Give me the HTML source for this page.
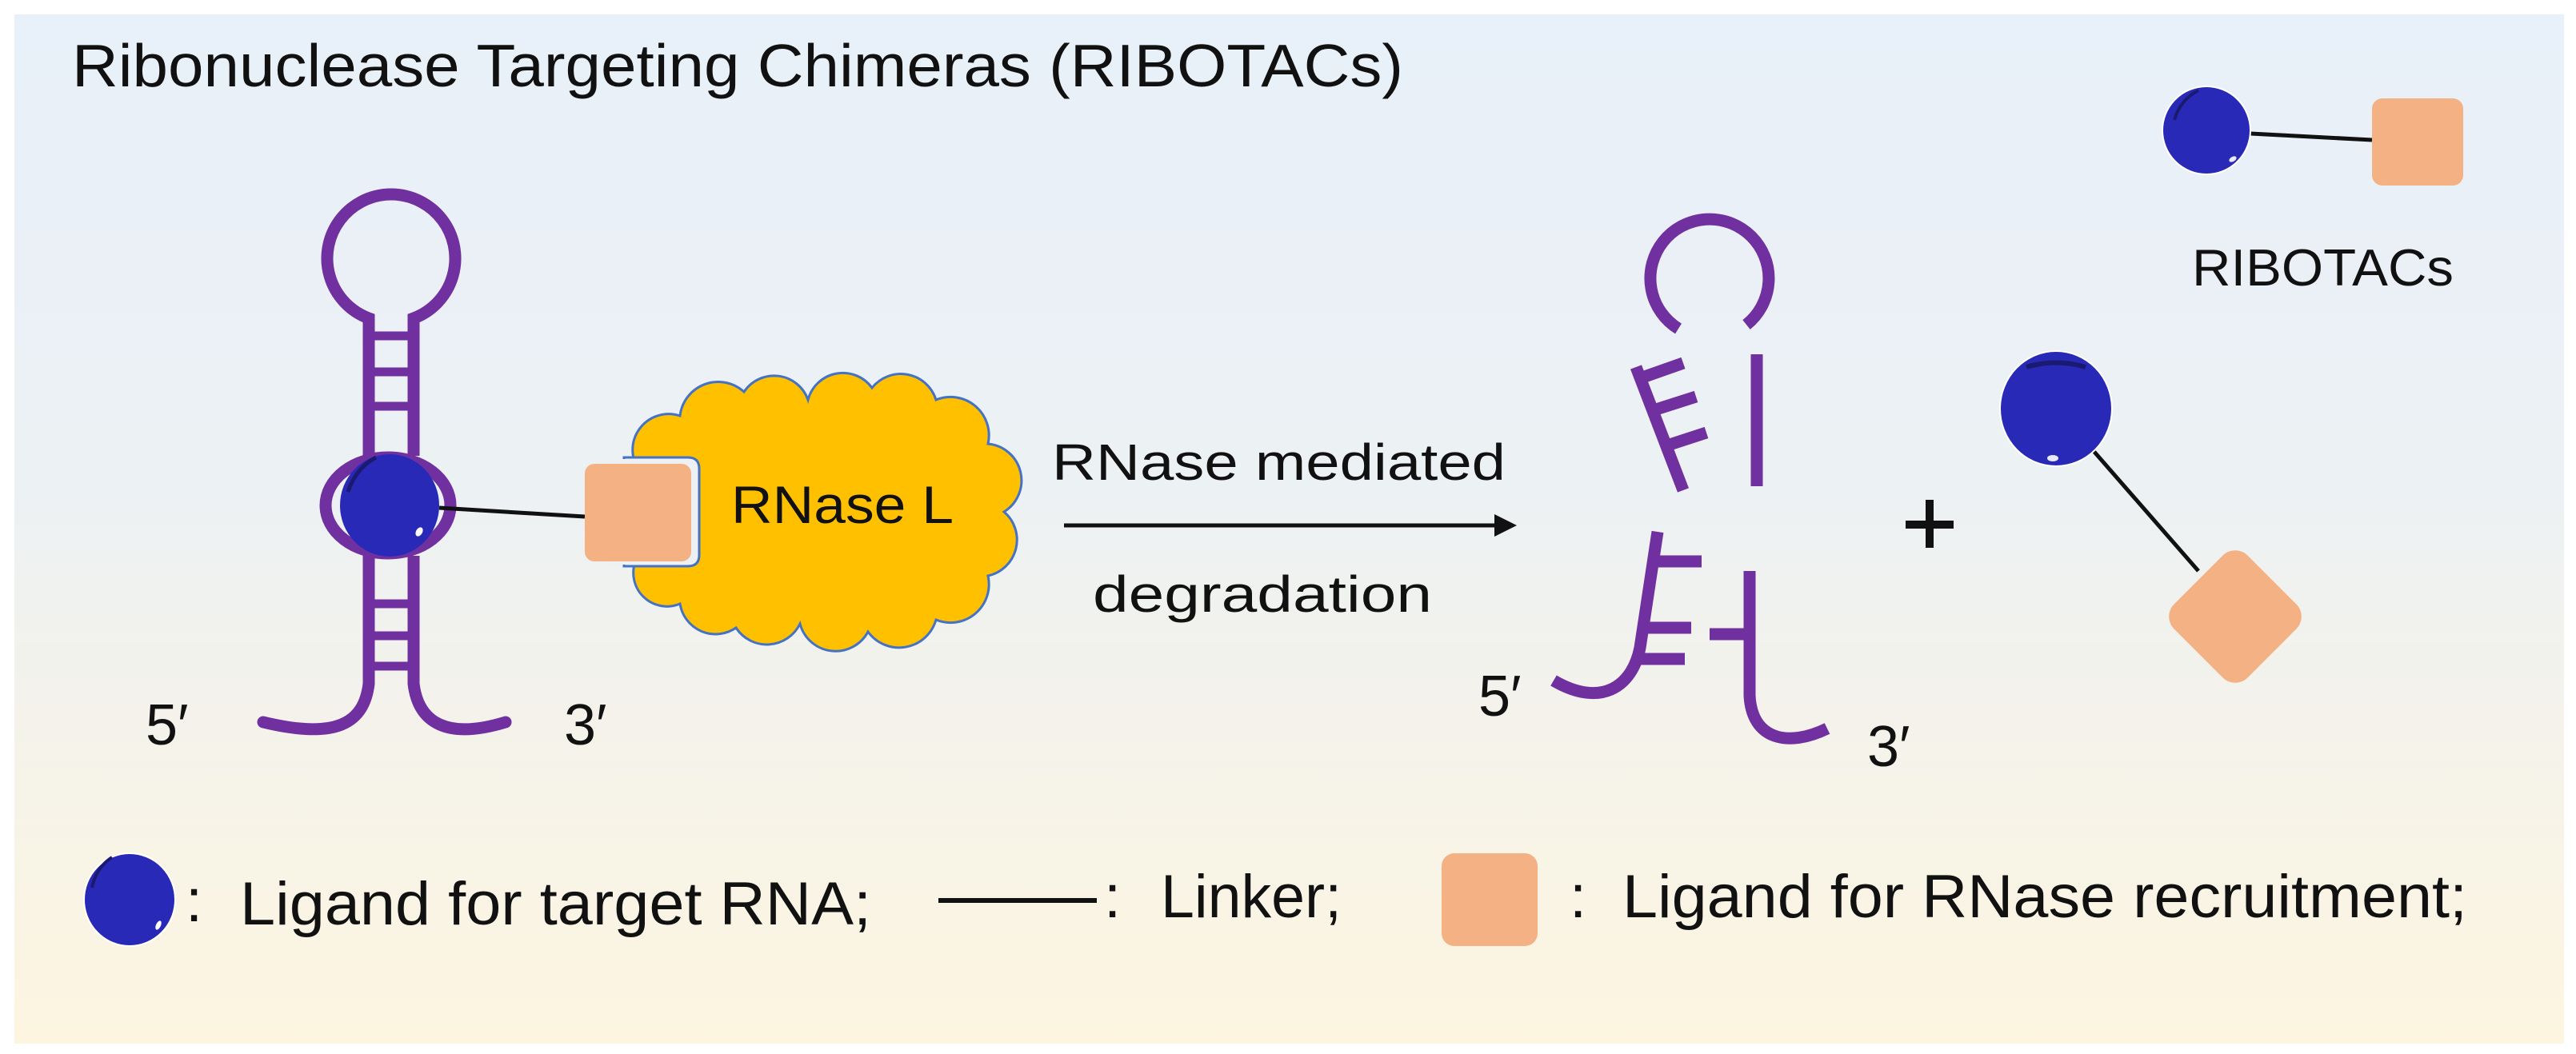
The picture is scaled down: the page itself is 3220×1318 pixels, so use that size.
<!DOCTYPE html>
<html><head><meta charset="utf-8"><style>
html,body{margin:0;padding:0;background:#fff;}
svg{display:block;}
text{font-family:"Liberation Sans",sans-serif;fill:#111;}
</style></head><body>
<svg width="3220" height="1318" viewBox="0 0 3220 1318" xmlns="http://www.w3.org/2000/svg">
<defs>
<linearGradient id="bg" x1="0" y1="0" x2="0" y2="1">
<stop offset="0" stop-color="#e8f0f9"/>
<stop offset="0.45" stop-color="#ecf1f4"/>
<stop offset="0.62" stop-color="#f2f2ed"/>
<stop offset="1" stop-color="#fdf5e0"/>
</linearGradient>
</defs>
<rect x="18" y="18" width="3187" height="1287" fill="url(#bg)"/>

<text x="90" y="108" font-size="75" textLength="1664" lengthAdjust="spacingAndGlyphs">Ribonuclease Targeting Chimeras (RIBOTACs)</text>

<!-- left hairpin -->
<g fill="none" stroke="#7030a0" stroke-width="15" stroke-linecap="butt">
<path d="M461,409 L461,398 A80,80 0 1 1 517,398 L517,409"/>
<line x1="461" y1="398" x2="461" y2="570"/>
<line x1="517" y1="398" x2="517" y2="570"/>
<line x1="461" y1="695" x2="461" y2="855"/>
<line x1="517" y1="695" x2="517" y2="855"/>
<path d="M461,855 C455,905 420,925 329,903" stroke-linecap="round"/>
<path d="M517,855 C523,905 560,925 632,903" stroke-linecap="round"/>
<g stroke-width="11">
<line x1="461" y1="420" x2="517" y2="420"/>
<line x1="461" y1="465" x2="517" y2="465"/>
<line x1="461" y1="508" x2="517" y2="508"/>
<line x1="461" y1="755" x2="517" y2="755"/>
<line x1="461" y1="795" x2="517" y2="795"/>
<line x1="461" y1="833" x2="517" y2="833"/>
</g>
<ellipse cx="485" cy="632" rx="78" ry="60"/>
</g>
<ellipse cx="487" cy="632" rx="62" ry="64" fill="#2929b7"/>
<path d="M435,615 Q445,585 470,572" stroke="#1a1a70" stroke-width="5" fill="none"/>
<ellipse cx="524" cy="665" rx="4" ry="6" fill="#fff" transform="rotate(30 524 665)"/>
<line x1="549" y1="635" x2="731" y2="646" stroke="#111" stroke-width="5"/>

<!-- cloud -->
<path d="M800,590 A45,45 0 0 1 850,520 A48,48 0 0 1 930,490 A45,45 0 0 1 1010,500 A45,45 0 0 1 1090,485 A46,46 0 0 1 1170,500 A48,48 0 0 1 1235,555 A46,46 0 0 1 1255,640 A46,46 0 0 1 1235,720 A48,48 0 0 1 1170,775 A48,48 0 0 1 1085,790 A46,46 0 0 1 1000,780 A46,46 0 0 1 920,785 A45,45 0 0 1 850,755 A42,42 0 0 1 795,700 A60,60 0 0 1 800,590 Z" fill="#ffc000" stroke="#4472c4" stroke-width="3"/>
<path d="M780,572 L860,572 Q874,572 874,586 L874,694 Q874,708 860,708 L780,708 Z" fill="#edf1f3" stroke="#4472c4" stroke-width="3"/>
<rect x="760" y="574" width="40" height="132" fill="#edf1f3"/>
<rect x="731" y="580" width="133" height="122" rx="12" fill="#f4b183"/>
<text x="914" y="654" font-size="66" textLength="278" lengthAdjust="spacingAndGlyphs">RNase L</text>

<text x="182" y="931" font-size="72">5′</text>
<text x="705" y="931" font-size="72">3′</text>

<!-- arrow -->
<text x="1315" y="600" font-size="64" textLength="567" lengthAdjust="spacingAndGlyphs">RNase mediated</text>
<line x1="1330" y1="657" x2="1872" y2="657" stroke="#111" stroke-width="5"/>
<path d="M1896,657 L1868,643 L1868,671 Z" fill="#111"/>
<text x="1366" y="765" font-size="64" textLength="424" lengthAdjust="spacingAndGlyphs">degradation</text>

<!-- right fragments -->
<g fill="none" stroke="#7030a0" stroke-width="15">
<path d="M2098,411 A74,74 0 1 1 2183,406"/>
<line x1="2045" y1="459" x2="2104" y2="613"/>
<line x1="2053" y1="472" x2="2104" y2="454"/>
<line x1="2070" y1="512" x2="2120" y2="496"/>
<line x1="2087" y1="556" x2="2133" y2="541"/>
<line x1="2196" y1="443" x2="2196" y2="608"/>
<path d="M2072,665 L2050,810 C2040,860 2000,885 1942,851"/>
<line x1="2070" y1="702" x2="2127" y2="702"/>
<line x1="2054" y1="785" x2="2114" y2="785"/>
<line x1="2049" y1="824" x2="2106" y2="824"/>
<path d="M2187,714 L2187,870 C2190,925 2235,935 2284,911"/>
<line x1="2137" y1="793" x2="2187" y2="793"/>
</g>
<text x="1848" y="895" font-size="72">5′</text>
<text x="2334" y="958" font-size="72">3′</text>

<!-- plus -->
<rect x="2382" y="651" width="60" height="10" fill="#111"/>
<rect x="2407" y="625" width="10" height="60" fill="#111"/>

<!-- released RIBOTAC -->
<line x1="2617" y1="564" x2="2748" y2="714" stroke="#111" stroke-width="5"/>
<ellipse cx="2570" cy="511" rx="70" ry="72" fill="#2929b7" stroke="#fff" stroke-width="2"/>
<path d="M2533,459 Q2570,448 2607,459" stroke="#1a1a70" stroke-width="6" fill="none"/>
<ellipse cx="2566" cy="573" rx="7" ry="4" fill="#e8e8ff"/>
<rect x="2729" y="706" width="130" height="130" rx="22" fill="#f4b183" transform="rotate(45 2794 771)"/>

<!-- top-right RIBOTAC -->
<line x1="2813" y1="167" x2="2965" y2="175" stroke="#111" stroke-width="5"/>
<circle cx="2758" cy="163" r="55" fill="#2929b7" stroke="#fff" stroke-width="2"/>
<path d="M2718,150 Q2725,125 2748,113" stroke="#1a1a70" stroke-width="4" fill="none"/>
<ellipse cx="2791" cy="199" rx="5" ry="3" fill="#e8e8ff" transform="rotate(-30 2791 199)"/>
<rect x="2965" y="123" width="114" height="109" rx="13" fill="#f4b183"/>
<text x="2740" y="357" font-size="65" textLength="327" lengthAdjust="spacingAndGlyphs">RIBOTACs</text>

<!-- legend -->
<ellipse cx="162" cy="1125" rx="57" ry="58" fill="#2929b7" stroke="#fff" stroke-width="2"/>
<path d="M115,1110 Q120,1085 140,1072" stroke="#1a1a70" stroke-width="4" fill="none"/>
<ellipse cx="198" cy="1157" rx="3" ry="6" fill="#fff" transform="rotate(25 198 1157)"/>
<text x="232" y="1152" font-size="76">:</text>
<text x="300" y="1156" font-size="76" textLength="789" lengthAdjust="spacingAndGlyphs">Ligand for target RNA;</text>
<line x1="1173" y1="1126" x2="1371" y2="1126" stroke="#111" stroke-width="6"/>
<text x="1380" y="1147" font-size="76">:</text>
<text x="1451" y="1147" font-size="76" textLength="226" lengthAdjust="spacingAndGlyphs">Linker;</text>
<rect x="1802" y="1067" width="120" height="116" rx="16" fill="#f4b183"/>
<text x="1962" y="1147" font-size="76">:</text>
<text x="2028" y="1147" font-size="76" textLength="1056" lengthAdjust="spacingAndGlyphs">Ligand for RNase recruitment;</text>
</svg>
</body></html>
